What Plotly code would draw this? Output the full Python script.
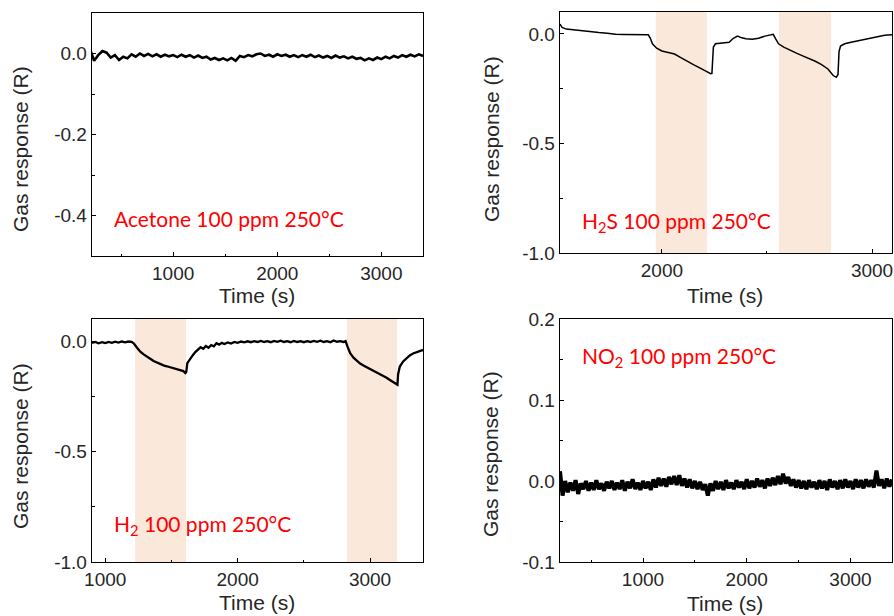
import plotly.graph_objects as go

# ---------------- data ----------------
acetone_t = list(range(200, 3401, 40))
acetone_r = [0.012, -0.018, -0.004, 0.006, 0.002, -0.010, -0.004, -0.016, -0.008, -0.012,
             -0.002, -0.008, 0.000, -0.006, -0.001, -0.007, -0.002, -0.008, -0.003, -0.007,
             -0.004, -0.009, -0.003, -0.008, -0.004, -0.010, -0.005, -0.011, -0.008, -0.015,
             -0.011, -0.016, -0.012, -0.017, -0.011, -0.018, -0.006, -0.009, -0.004, -0.007,
             -0.002, 0.000, -0.006, -0.003, -0.008, -0.002, -0.006, -0.003, -0.008, -0.004,
             -0.009, -0.004, -0.008, -0.003, -0.009, -0.005, -0.010, -0.006, -0.011, -0.005,
             -0.010, -0.007, -0.012, -0.008, -0.013, -0.011, -0.017, -0.012, -0.016, -0.010,
             -0.014, -0.008, -0.012, -0.006, -0.010, -0.004, -0.008, -0.003, -0.007, -0.002,
             -0.006]

h2s_t = [1515, 1525, 1545, 1580, 1620, 1660, 1700, 1740, 1780, 1820, 1860, 1900, 1935,
         1945, 1955, 1975, 2000, 2030, 2060, 2090, 2120, 2150, 2180, 2210, 2232, 2238,
         2245, 2255, 2290, 2320, 2340, 2360, 2380, 2400, 2430, 2460, 2490, 2520, 2530,
         2540, 2555, 2580, 2610, 2640, 2670, 2700, 2730, 2760, 2790, 2815, 2830, 2838,
         2843, 2850, 2870, 2900, 2940, 2980, 3020, 3060, 3095]
h2s_r = [0.045, 0.030, 0.022, 0.018, 0.012, 0.010, 0.006, 0.003, -0.002, -0.003, -0.004,
         -0.003, -0.004, -0.020, -0.045, -0.065, -0.078, -0.085, -0.092, -0.108, -0.125,
         -0.140, -0.155, -0.172, -0.182, -0.180, -0.060, -0.045, -0.042, -0.038, -0.020,
         -0.010, -0.018, -0.022, -0.024, -0.020, -0.010, -0.004, -0.002, -0.020, -0.045,
         -0.060, -0.075, -0.088, -0.100, -0.112, -0.125, -0.140, -0.160, -0.190, -0.198,
         -0.185, -0.080, -0.055, -0.045, -0.038, -0.030, -0.022, -0.012, -0.006, -0.004]
h2s_pulses = [[1971, 2214], [2557, 2805]]

h2_t = [900, 925, 950, 975, 1000, 1025, 1050, 1075, 1100, 1125, 1150, 1175, 1200, 1215,
        1240, 1265, 1290, 1315, 1340, 1365, 1390, 1415, 1440, 1465, 1490, 1515, 1540,
        1565, 1590, 1605, 1612, 1620, 1640, 1660, 1680, 1700, 1720, 1740, 1760, 1780,
        1800, 1820, 1840, 1860, 1880, 1900, 1925, 1950, 1975, 2000, 2025, 2050, 2075,
        2100, 2125, 2150, 2175, 2200, 2225, 2250, 2275, 2300, 2325, 2350, 2375, 2400,
        2425, 2450, 2475, 2500, 2525, 2550, 2575, 2600, 2625, 2650, 2675, 2700, 2725,
        2750, 2775, 2800, 2815, 2830, 2850, 2875, 2900, 2925, 2950, 2975, 3000, 3025,
        3050, 3075, 3100, 3125, 3150, 3175, 3200, 3207, 3212, 3225, 3250, 3275, 3300,
        3325, 3350, 3375, 3400]
h2_r = [-0.008, -0.004, -0.010, -0.005, -0.009, -0.004, -0.008, -0.003, -0.007, -0.002,
        -0.006, -0.002, -0.004, -0.010, -0.030, -0.048, -0.060, -0.072, -0.080, -0.090,
        -0.097, -0.104, -0.110, -0.114, -0.118, -0.121, -0.126, -0.130, -0.136, -0.145,
        -0.140, -0.100, -0.080, -0.065, -0.050, -0.038, -0.028, -0.035, -0.022, -0.030,
        -0.018, -0.024, -0.010, -0.016, -0.008, -0.013, -0.006, -0.011, -0.004, -0.008,
        -0.002, -0.006, -0.001, -0.005, 0.000, -0.004, 0.001, -0.004, 0.000, -0.005,
        0.001, -0.003, 0.002, -0.004, 0.000, -0.005, 0.001, -0.004, 0.000, -0.005,
        0.000, -0.004, 0.001, -0.003, 0.002, -0.004, 0.000, -0.005, 0.003, -0.003,
        0.000, -0.004, 0.000, -0.025, -0.055, -0.075, -0.090, -0.102, -0.110, -0.118,
        -0.125, -0.132, -0.142, -0.150, -0.158, -0.166, -0.176, -0.184, -0.195, -0.198,
        -0.150, -0.115, -0.092, -0.078, -0.065, -0.056, -0.050, -0.045, -0.040]
h2_pulses = [[1226, 1611], [2826, 3204]]

no2_t = list(range(200, 3401, 25))
no2_r = [0.012, -0.018, 0.000, -0.014, -0.002, -0.012, 0.001, -0.016, -0.003, -0.010,
         0.000, -0.012, -0.002, -0.011, 0.001, -0.010, -0.003, -0.012, -0.001, -0.009,
         0.000, -0.011, -0.002, -0.010, 0.001, -0.012, -0.001, -0.009, 0.002, -0.010,
         -0.002, -0.011, 0.000, -0.009, -0.001, -0.011, 0.002, -0.008, 0.004, -0.006,
         0.003, -0.007, 0.005, -0.004, 0.006, -0.005, 0.007, -0.006, 0.003, -0.008,
         0.002, -0.009, 0.000, -0.010, -0.001, -0.011, -0.004, -0.018, -0.003, -0.012,
         0.000, -0.010, -0.001, -0.011, 0.001, -0.009, -0.002, -0.010, 0.001, -0.008,
         -0.001, -0.010, 0.002, -0.009, 0.000, -0.008, 0.003, -0.007, 0.001, -0.009,
         0.003, -0.006, 0.004, -0.005, 0.006, -0.004, 0.009, -0.003, 0.005, -0.006,
         0.002, -0.008, 0.001, -0.009, 0.000, -0.010, 0.001, -0.008, -0.001, -0.010,
         0.001, -0.009, 0.000, -0.011, 0.002, -0.008, 0.000, -0.010, 0.001, -0.009,
         0.002, -0.008, 0.000, -0.010, 0.002, -0.008, 0.001, -0.009, 0.002, -0.007,
         0.001, -0.008, 0.013, -0.006, 0.002, -0.009, 0.003, -0.007, 0.002]

labels = ["Acetone 100 ppm 250°C", "H<sub>2</sub>S 100 ppm 250°C",
          "H<sub>2</sub> 100 ppm 250°C", "NO<sub>2</sub> 100 ppm 250°C"]

# ---------------- figure ----------------
W, H = 894, 616

fig = go.Figure()

def px_x(p):
    return p / W

def px_y(p):
    return 1 - p / H

panels = [
    dict(t=acetone_t, r=acetone_r, pulses=[], xr=[220, 3400], yr=[-0.5, 0.1],
         xt=[1000, 2000, 3000], yt=[-0.4, -0.2, 0.0], ytxt=["-0.4", "-0.2", "0.0"],
         xminor=500, yminor=0.1, box=(92, 423, 13, 256), lw=2.6, label=labels[0],
         lab=(112, 218), ytitle=(20, 149), xtitle=(257, 295)),
    dict(t=h2s_t, r=h2s_r, pulses=h2s_pulses, xr=[1515, 3095], yr=[-1.0, 0.1],
         xt=[2000, 3000], yt=[-1.0, -0.5, 0.0], ytxt=["-1.0", "-0.5", "0.0"],
         xminor=500, yminor=0.25, box=(560, 892, 12, 253), lw=1.5, label=labels[1],
         lab=(580, 222), ytitle=(491, 139), xtitle=(725, 295)),
    dict(t=h2_t, r=h2_r, pulses=h2_pulses, xr=[900, 3400], yr=[-1.0, 0.1],
         xt=[1000, 2000, 3000], yt=[-1.0, -0.5, 0.0], ytxt=["-1.0", "-0.5", "0.0"],
         xminor=500, yminor=0.25, box=(92, 423, 319, 562), lw=2.3, label=labels[2],
         lab=(112, 525), ytitle=(20, 446), xtitle=(257, 602)),
    dict(t=no2_t, r=no2_r, pulses=[], xr=[200, 3400], yr=[-0.1, 0.2],
         xt=[1000, 2000, 3000], yt=[-0.1, 0.0, 0.1, 0.2], ytxt=["-0.1", "0.0", "0.1", "0.2"],
         xminor=500, yminor=0.05, box=(560, 892, 319, 562), lw=4.0, label=labels[3],
         lab=(580, 357), ytitle=(490, 454), xtitle=(725, 603)),
]

font_axis = dict(family="Liberation Sans, Arial, sans-serif", size=19, color="#262626")
font_title = dict(family="Liberation Sans, Arial, sans-serif", size=21, color="#262626")
font_red = dict(family="Lato, Open Sans, sans-serif", size=21, color="#ff0000")

annotations = []
shapes = []
for i, p in enumerate(panels, start=1):
    xa = "xaxis" if i == 1 else f"xaxis{i}"
    ya = "yaxis" if i == 1 else f"yaxis{i}"
    xref = "x" if i == 1 else f"x{i}"
    yref = "y" if i == 1 else f"y{i}"
    x0, x1, y0, y1 = p["box"]
    fig.add_trace(go.Scatter(x=p["t"], y=p["r"], mode="lines",
                             line=dict(color="black", width=p["lw"]),
                             xaxis=xref, yaxis=yref, showlegend=False))
    for a, b in p["pulses"]:
        shapes.append(dict(type="rect", xref=xref, yref=f"{yref} domain", x0=a, x1=b,
                           y0=0, y1=1, fillcolor="#FAE8DB", line=dict(width=0), layer="below"))
    fig.layout[xa] = dict(domain=[px_x(x0), px_x(x1)], range=p["xr"], anchor=yref,
                          automargin=False,
                          showline=True, linecolor="black", linewidth=1.3, mirror=True,
                          ticks="inside", ticklen=4, tickcolor="black", tickwidth=1,
                          tickvals=p["xt"], ticktext=[str(v) for v in p["xt"]],
                          minor=dict(ticks="inside", ticklen=2.5, dtick=p["xminor"],
                                     tick0=0, tickcolor="black"),
                          showgrid=False, zeroline=False, tickfont=font_axis)
    fig.layout[ya] = dict(domain=[px_y(y1), px_y(y0)], range=p["yr"], anchor=xref,
                          automargin=False,
                          showline=True, linecolor="black", linewidth=1.3, mirror=True,
                          ticks="inside", ticklen=4, tickcolor="black", tickwidth=1,
                          tickvals=p["yt"], ticktext=p["ytxt"],
                          minor=dict(ticks="inside", ticklen=2.5, dtick=p["yminor"],
                                     tick0=0, tickcolor="black"),
                          showgrid=False, zeroline=False, tickfont=font_axis)
    annotations.append(dict(text=p["label"], xref="paper", yref="paper",
                            x=px_x(p["lab"][0]), y=px_y(p["lab"][1]), xanchor="left",
                            yanchor="middle", showarrow=False, font=font_red))
    annotations.append(dict(text="Gas response (R)", xref="paper", yref="paper",
                            x=px_x(p["ytitle"][0]), y=px_y(p["ytitle"][1]), textangle=-90,
                            xanchor="center", yanchor="middle", showarrow=False, font=font_title))
    annotations.append(dict(text="Time (s)", xref="paper", yref="paper",
                            x=px_x(p["xtitle"][0]), y=px_y(p["xtitle"][1]),
                            xanchor="center", yanchor="middle", showarrow=False, font=font_title))

fig.update_layout(width=W, height=H, margin=dict(l=0, r=0, t=0, b=0, autoexpand=False),
                  paper_bgcolor="white", plot_bgcolor="white", hovermode=False,
                  annotations=annotations, shapes=shapes, showlegend=False)

# remove the page's default 8 px body margin so the 894x616 figure fills the window exactly
fig.write_html("out.html",
               config={"displayModeBar": False, "staticPlot": True},
               post_script="document.body.style.margin='0px';"
                           "document.documentElement.style.overflow='hidden';")
